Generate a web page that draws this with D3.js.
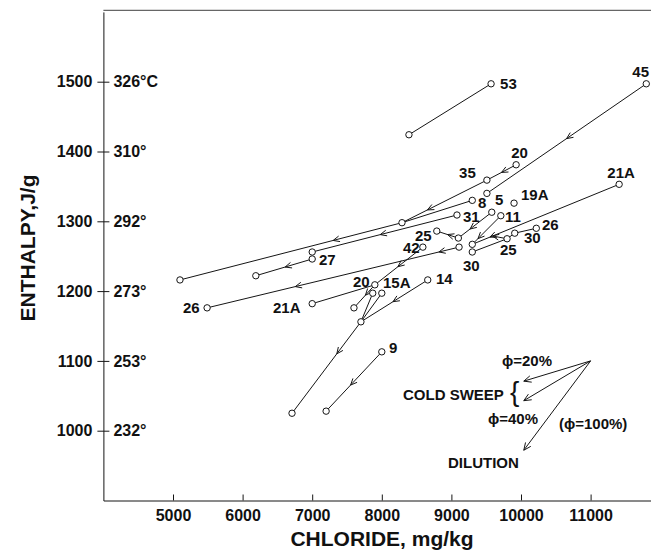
<!DOCTYPE html>
<html>
<head>
<meta charset="utf-8">
<script src="https://cdn.jsdelivr.net/npm/d3@7"></script>
<style>
  body { margin: 0; background: #fff; }
  svg text { font-family: "Liberation Sans", Arial, sans-serif; font-weight: bold; fill: #111; }
</style>
</head>
<body>
<svg width="651" height="553"></svg>
<script>
// chloride (mg/kg), enthalpy (J/g) of each sampled well
const wells = [
  ['p53a', 9570, 1497], ['p53b', 8390, 1424],
  ['p45', 11800, 1497], ['p45e', 9510, 1340],
  ['p20t', 9930, 1381], ['p35', 9510, 1359],
  ['pJ', 8290, 1298], ['pL', 5100, 1216], ['p8', 9300, 1330],
  ['p31', 9080, 1309], ['p27a', 7000, 1256], ['p27b', 7000, 1246], ['pM', 6190, 1222],
  ['p5', 9580, 1313], ['p11', 9710, 1308], ['p19A', 9900, 1326],
  ['p25L', 8790, 1286], ['pN', 9100, 1276], ['pO', 9110, 1263], ['pP', 9300, 1267],
  ['p30b', 9300, 1256], ['p30m', 9800, 1275], ['p30r', 9910, 1283], ['p26r', 10220, 1290],
  ['p21Ar', 11410, 1353], ['p26L', 5490, 1176],
  ['p42', 8590, 1263], ['p20l', 7900, 1209], ['p15Aa', 7870, 1197], ['p15Ab', 8000, 1197],
  ['pQ', 7600, 1176], ['pR', 7700, 1156], ['p14', 8660, 1216], ['pS', 6710, 1025],
  ['p9', 8000, 1113], ['pT', 7200, 1028], ['p21Al', 7000, 1182]
]
// line ends with no circle
const bends = [['p25s', 9590, 1279]]

// [from, to, arrow positions along the line]
const segments = [
  ['p53a', 'p53b', []],
  ['p45', 'p45e', [0.5]],
  ['p20t', 'p35', [0.5]],
  ['p35', 'pJ', [0.7]],
  ['pJ', 'pL', [0.31]],
  ['p8', 'pJ', []],
  ['p31', 'p27a', [0.53]],
  ['p27b', 'pM', [0.48]],
  ['p5', 'pN', [0.65]],
  ['p11', 'pP', [0.8]],
  ['p21Ar', 'pP', [0.88]],
  ['pN', 'p25L', [0.5]],
  ['pO', 'p26L', [0.08, 0.65]],
  ['p30b', 'p30m', []],
  ['p30m', 'p30r', []],
  ['p30r', 'p26r', []],
  ['p30m', 'p25s', [1]],
  ['p42', 'p20l', [0.52]],
  ['p21Al', 'p20l', []],
  ['p20l', 'pQ', [0.45]],
  ['p15Aa', 'pR', []],
  ['p15Ab', 'pR', []],
  ['p14', 'pR', [0.52]],
  ['pR', 'pS', [0.35]],
  ['p9', 'pT', [0.56]]
]

const wellLabels = [
  ['53', 9700, 1490], ['45', 11600, 1507], ['20', 9860, 1391], ['35', 9110, 1362],
  ['21A', 11240, 1362], ['8', 9382, 1319], ['5', 9626, 1323], ['19A', 10000, 1330],
  ['31', 9167, 1299], ['11', 9770, 1299], ['26', 10302, 1287], ['30', 10043, 1269],
  ['25', 9698, 1252], ['30', 9167, 1229], ['25', 8477, 1272], ['42', 8305, 1255],
  ['27', 7098, 1237], ['26', 5144, 1169], ['21A', 6437, 1169], ['20', 7586, 1206],
  ['15A', 8017, 1204], ['14', 8779, 1210], ['9', 8103, 1111]
]

const xTicks = [5000, 6000, 7000, 8000, 9000, 10000, 11000]
const yTicks = [1000, 1100, 1200, 1300, 1400, 1500]
const tempLabels = ['232°', '253°', '273°', '292°', '310°', '326°C']

// key in the lower right
const keyOrigin = [11000, 1100]
const keyTargets = [[10040, 1071], [10040, 1043], [10040, 972]]
const keyTexts = [
  ['ϕ=20%', 9727, 1093], ['COLD SWEEP', 8305, 1044], ['ϕ=40%', 9526, 1010],
  ['(ϕ=100%)', 10546, 1002], ['DILUTION', 8951, 947]
]

const svg = d3.select('svg'),
  x = d3.scaleLinear().domain([4000, 12000]).range([103.4, 660.2]),
  y = d3.scaleLinear().domain([900, 1600]).range([500.5, 11.9]),
  ink = '#151515'

const pos = new Map()
wells.concat(bends).forEach(d => pos.set(d[0], [x(d[1]), y(d[2])]))

// frame top
svg.append('line')
  .attr('x1', x(4000)).attr('x2', 651)
  .attr('y1', y(1600) - 1.5).attr('y2', y(1600) - 1.5)
  .attr('stroke', '#666').attr('stroke-width', 1.2)

const gx = svg.append('g')
  .attr('transform', `translate(0,${y(900)})`)
  .call(d3.axisBottom(x).tickValues(xTicks).tickSizeInner(-6).tickSizeOuter(0).tickPadding(9).tickFormat(d3.format('d')))
gx.selectAll('text').attr('font-size', 16).attr('font-family', null)
gx.selectAll('line, path').attr('stroke', ink)

const gy = svg.append('g')
  .attr('transform', `translate(${x(4000)},0)`)
  .call(d3.axisLeft(y).tickValues(yTicks).tickSizeInner(6).tickSizeOuter(0).tickPadding(5).tickFormat(d3.format('d')))
gy.selectAll('.tick line').attr('x1', 6)
gy.selectAll('text').attr('font-size', 16).attr('font-family', null)
gy.selectAll('.tick').append('text')
  .attr('x', 10).attr('dy', '0.32em').attr('text-anchor', 'start')
  .attr('font-size', 16)
  .text((d, i) => tempLabels[i])
gy.selectAll('line, path').attr('stroke', ink)

svg.append('text')
  .attr('x', 382).attr('y', 546)
  .attr('text-anchor', 'middle').attr('font-size', 21)
  .text('CHLORIDE, mg/kg')
svg.append('text')
  .attr('transform', 'translate(35,248) rotate(-90)')
  .attr('text-anchor', 'middle').attr('font-size', 21)
  .text('ENTHALPY,J/g')

function arrowHead(g, ax, ay, bx, by, len) {
  const a = Math.atan2(by - ay, bx - ax), s = 0.42
  g.append('path')
    .attr('d', `M${bx - len * Math.cos(a - s)},${by - len * Math.sin(a - s)}L${bx},${by}L${bx - len * Math.cos(a + s)},${by - len * Math.sin(a + s)}`)
    .attr('fill', 'none').attr('stroke', ink).attr('stroke-width', 1)
}

const gl = svg.append('g')
segments.forEach(([a, b, arrows]) => {
  const [ax, ay] = pos.get(a), [bx, by] = pos.get(b)
  gl.append('line')
    .attr('x1', ax).attr('y1', ay).attr('x2', bx).attr('y2', by)
    .attr('stroke', ink).attr('stroke-width', 1)
  arrows.forEach(f => arrowHead(gl, ax, ay, ax + f * (bx - ax), ay + f * (by - ay), 7))
})

svg.append('g').selectAll('circle')
  .data(wells)
  .join('circle')
  .attr('cx', d => x(d[1])).attr('cy', d => y(d[2]))
  .attr('r', 3.2)
  .attr('fill', '#fff').attr('stroke', ink).attr('stroke-width', 1)

svg.append('g').selectAll('text')
  .data(wellLabels)
  .join('text')
  .attr('x', d => x(d[1])).attr('y', d => y(d[2]))
  .attr('font-size', 15)
  .text(d => d[0])

// key arrows and notes
const gk = svg.append('g')
keyTargets.forEach(t => {
  const ox = x(keyOrigin[0]), oy = y(keyOrigin[1]), tx = x(t[0]), ty = y(t[1])
  gk.append('line').attr('x1', ox).attr('y1', oy).attr('x2', tx).attr('y2', ty)
    .attr('stroke', ink).attr('stroke-width', 1)
  arrowHead(gk, ox, oy, tx, ty, 8)
})
gk.selectAll('text.note')
  .data(keyTexts)
  .join('text')
  .attr('class', 'note')
  .attr('x', d => x(d[1])).attr('y', d => y(d[2]))
  .attr('font-size', 15)
  .text(d => d[0])
gk.append('text')
  .attr('x', x(9842)).attr('y', y(1042))
  .attr('font-size', 28)
  .style('font-weight', 'normal')
  .text('{')
</script>
</body>
</html>
